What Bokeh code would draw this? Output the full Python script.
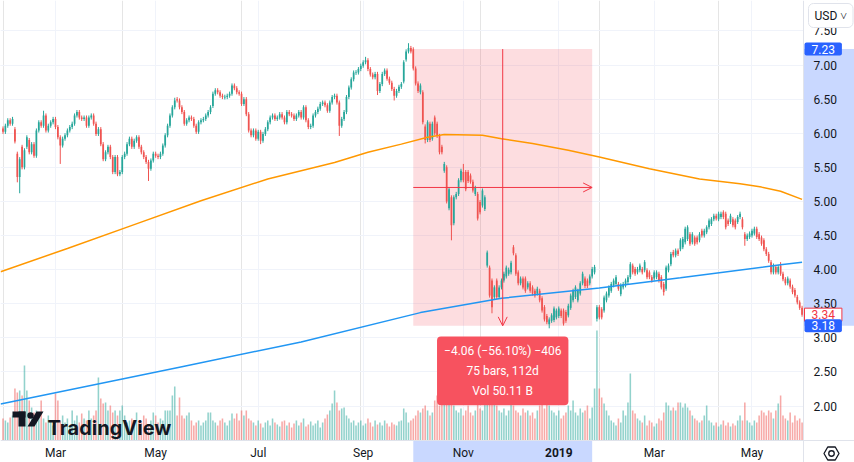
from bokeh.plotting import figure
from bokeh.models import (ColumnDataSource, Range1d, FixedTicker, PrintfTickFormatter,
                          Label, Arrow, OpenHead, LinearAxis, Grid)
from bokeh.embed import file_html
from bokeh.resources import INLINE

# ---------------- data (daily bars, index 0 = first visible trading day) ----------------
open_px = [
    6.07, 6.02, 6.11, 6.19, 6.14, 6.06, 5.70, 5.36, 5.80, 5.50,
    5.80, 5.90, 5.72, 5.84, 5.67, 6.04, 6.16, 6.11, 6.26, 6.04,
    6.11, 6.16, 6.21, 6.09, 5.94, 5.82, 5.92, 5.97, 6.04, 6.09,
    6.14, 6.26, 6.31, 6.23, 6.21, 6.23, 6.11, 6.23, 6.26, 6.14,
    5.99, 6.06, 5.84, 5.62, 5.72, 5.80, 5.65, 5.43, 5.65, 5.40,
    5.43, 5.65, 5.70, 5.84, 5.92, 5.80, 5.89, 5.94, 5.80, 5.72,
    5.65, 5.58, 5.48, 5.60, 5.70, 5.67, 5.65, 5.70, 5.82, 5.97,
    6.11, 6.26, 6.38, 6.50, 6.48, 6.38, 6.31, 6.14, 6.19, 6.23,
    6.21, 6.11, 6.02, 6.16, 6.19, 6.21, 6.26, 6.31, 6.40, 6.58,
    6.63, 6.60, 6.55, 6.53, 6.53, 6.55, 6.58, 6.70, 6.66, 6.60,
    6.58, 6.43, 6.50, 6.28, 6.04, 5.97, 6.04, 5.92, 6.02, 5.89,
    5.99, 6.06, 6.16, 6.23, 6.26, 6.21, 6.23, 6.28, 6.23, 6.16,
    6.31, 6.28, 6.26, 6.21, 6.26, 6.31, 6.23, 6.38, 6.19, 6.09,
    6.11, 6.26, 6.31, 6.36, 6.43, 6.45, 6.41, 6.33, 6.45, 6.53,
    6.55, 6.45, 6.11, 6.21, 6.31, 6.53, 6.67, 6.79, 6.89, 6.89,
    6.94, 6.99, 7.04, 7.07, 6.94, 6.86, 6.82, 6.87, 6.62, 6.72,
    6.87, 6.92, 6.80, 6.74, 6.65, 6.55, 6.62, 6.68, 6.76, 7.08,
    7.20, 7.25,
    7.23, 6.95, 6.73, 6.60, 6.60, 6.10, 5.90, 6.14, 5.92, 6.23,
    6.14, 5.96, 5.80, 5.45, 5.50, 4.90, 5.06, 4.68, 5.06, 5.11,
    5.31, 5.43, 5.43, 5.43, 5.38, 5.29, 5.11, 5.11, 4.99, 4.94,
    4.89, 4.06, 4.03, 3.84, 3.60, 3.84, 3.60, 3.74, 3.84, 3.90,
    3.94, 3.96, 4.33, 4.21, 3.96, 3.80, 3.87, 3.87, 3.74, 3.80,
    3.74, 3.69, 3.65, 3.69, 3.58, 3.45, 3.32, 3.20, 3.25, 3.26,
    3.30, 3.32, 3.40, 3.40, 3.38, 3.33, 3.44, 3.55, 3.60, 3.55,
    3.65, 3.80, 3.87, 3.84, 3.80, 3.90, 3.96, 3.28, 3.45, 3.42,
    3.40, 3.55, 3.62, 3.69, 3.77, 3.79, 3.79, 3.64, 3.74, 3.77,
    3.82, 3.89, 4.06, 4.01, 3.96, 3.99, 4.01, 3.99, 3.99, 3.96,
    3.89, 3.87, 3.89, 3.94, 3.89, 3.79, 3.72, 3.99, 4.08, 4.26,
    4.21, 4.28, 4.30, 4.33, 4.40, 4.45, 4.52, 4.40, 4.47, 4.47,
    4.43, 4.57, 4.50, 4.55, 4.62, 4.67, 4.74, 4.79, 4.74, 4.77,
    4.84, 4.82, 4.72, 4.70, 4.74, 4.72, 4.70, 4.77, 4.74, 4.52,
    4.45, 4.48, 4.50, 4.53, 4.60, 4.52, 4.47, 4.43, 4.30, 4.23,
    4.11, 3.96, 4.04, 3.96, 4.06, 3.94, 3.86, 3.80, 3.84, 3.75,
    3.70, 3.60, 3.52, 3.44,
]
close_px = [
    6.02, 6.11, 6.19, 6.14, 6.21, 5.88, 5.36, 5.62, 5.50, 5.75,
    5.94, 5.72, 5.84, 5.67, 6.04, 6.16, 6.11, 6.26, 6.04, 6.11,
    6.16, 6.21, 6.09, 5.94, 5.82, 5.92, 5.97, 6.04, 6.09, 6.14,
    6.26, 6.31, 6.23, 6.21, 6.23, 6.11, 6.23, 6.26, 6.14, 5.99,
    6.06, 5.84, 5.62, 5.72, 5.80, 5.65, 5.43, 5.65, 5.40, 5.43,
    5.65, 5.70, 5.84, 5.92, 5.80, 5.89, 5.94, 5.80, 5.72, 5.65,
    5.58, 5.48, 5.60, 5.70, 5.67, 5.65, 5.70, 5.82, 5.97, 6.11,
    6.26, 6.38, 6.48, 6.48, 6.38, 6.31, 6.14, 6.19, 6.23, 6.21,
    6.11, 6.02, 6.16, 6.19, 6.21, 6.26, 6.31, 6.38, 6.58, 6.63,
    6.60, 6.55, 6.53, 6.53, 6.55, 6.58, 6.70, 6.66, 6.60, 6.58,
    6.43, 6.50, 6.28, 6.04, 5.97, 6.04, 5.92, 6.02, 5.89, 5.99,
    6.06, 6.16, 6.23, 6.26, 6.21, 6.23, 6.28, 6.23, 6.16, 6.31,
    6.28, 6.26, 6.21, 6.26, 6.31, 6.23, 6.38, 6.19, 6.09, 6.11,
    6.26, 6.31, 6.36, 6.43, 6.45, 6.41, 6.33, 6.45, 6.53, 6.55,
    6.45, 6.11, 6.21, 6.31, 6.53, 6.67, 6.79, 6.89, 6.89, 6.94,
    6.99, 7.04, 7.07, 6.94, 6.86, 6.82, 6.87, 6.62, 6.72, 6.87,
    6.92, 6.80, 6.74, 6.65, 6.55, 6.62, 6.68, 6.72, 7.04, 7.20,
    7.25, 7.20,
    6.95, 6.73, 6.62, 6.70, 6.16, 5.90, 6.16, 5.90, 6.14, 6.00,
    5.96, 5.72, 5.72, 5.55, 5.00, 5.18, 4.65, 5.06, 5.11, 5.31,
    5.45, 5.31, 5.18, 5.30, 5.29, 5.16, 5.20, 4.75, 4.84, 5.16,
    5.06, 4.25, 3.62, 3.45, 3.74, 3.60, 3.74, 3.84, 3.94, 4.03,
    4.00, 4.10, 4.24, 3.94, 3.80, 3.87, 3.74, 3.69, 3.80, 3.69,
    3.65, 3.62, 3.72, 3.55, 3.40, 3.27, 3.23, 3.27, 3.33, 3.43,
    3.40, 3.43, 3.32, 3.21, 3.25, 3.47, 3.62, 3.69, 3.74, 3.69,
    3.80, 3.94, 3.76, 3.76, 3.90, 4.01, 4.04, 3.45, 3.30, 3.30,
    3.59, 3.65, 3.74, 3.79, 3.84, 3.89, 3.72, 3.77, 3.79, 3.84,
    3.89, 4.08, 3.96, 3.94, 4.01, 4.06, 3.96, 4.11, 3.89, 3.89,
    3.84, 3.96, 3.96, 3.84, 3.74, 3.67, 4.03, 4.06, 4.23, 4.21,
    4.28, 4.23, 4.43, 4.45, 4.60, 4.62, 4.38, 4.52, 4.38, 4.40,
    4.52, 4.50, 4.57, 4.62, 4.72, 4.74, 4.79, 4.75, 4.82, 4.82,
    4.77, 4.62, 4.67, 4.79, 4.65, 4.62, 4.77, 4.82, 4.62, 4.45,
    4.50, 4.53, 4.57, 4.60, 4.48, 4.45, 4.38, 4.30, 4.23, 4.13,
    3.96, 4.06, 3.96, 4.04, 3.94, 3.86, 3.80, 3.87, 3.75, 3.67,
    3.62, 3.52, 3.44, 3.34,
]
# volume in millions of shares
volume_m = [
    440, 400, 360, 460, 500, 1040, 960, 1000, 900, 1500,
    1000, 800, 660, 560, 600, 540, 800, 440, 360, 500,
    400, 300, 940, 800, 400, 500, 360, 440, 300, 600,
    400, 500, 360, 540, 440, 400, 600, 440, 500, 600,
    1260, 840, 740, 760, 600, 700, 560, 600, 500, 600,
    700, 500, 360, 400, 440, 300, 560, 400, 360, 500,
    440, 320, 400, 560, 500, 360, 440, 400, 600, 600,
    600, 900, 1080, 500, 860, 500, 440, 500, 560, 400,
    300, 360, 400, 300, 360, 400, 560, 560, 400, 360,
    300, 400, 440, 360, 300, 400, 540, 440, 540, 400,
    600, 500, 600, 440, 400, 360, 300, 400, 340, 260,
    360, 400, 300, 440, 360, 320, 280, 380, 400, 300,
    360, 260, 340, 400, 300, 360, 440, 280, 320, 380,
    300, 340, 400, 260, 360, 440, 520, 600, 740, 1000,
    760, 600, 640, 660, 500, 440, 360, 400, 300, 360,
    400, 300, 340, 440, 360, 280, 400, 320, 360, 300,
    400, 340, 280, 360, 320, 300, 380, 400, 640, 560,
    360, 400, 440, 500, 600, 560, 640, 700, 600, 500,
    560, 800, 900, 700, 840, 760, 1000, 900, 800, 700,
    600, 560, 640, 500, 600, 700, 560, 500, 600, 760,
    640, 600, 800, 960, 900, 840, 760, 700, 600, 560,
    640, 500, 600, 800, 700, 600, 560, 500, 640, 560,
    600, 500, 560, 440, 600, 700, 760, 640, 800, 700,
    600, 560, 500, 600, 440, 500, 560, 700, 600, 800,
    560, 500, 640, 560, 600, 700, 440, 660, 1040, 2200,
    1040, 860, 740, 600, 500, 400, 360, 300, 440, 360,
    600, 500, 760, 1340, 600, 540, 440, 400, 360, 500,
    300, 400, 360, 280, 340, 440, 400, 560, 760, 700,
    600, 660, 600, 760, 760, 660, 740, 660, 600, 500,
    440, 400, 360, 400, 500, 700, 400, 360, 300, 360,
    280, 320, 400, 300, 360, 280, 340, 300, 400, 500,
    400, 760, 400, 360, 300, 400, 360, 500, 600, 560,
    500, 600, 560, 440, 600, 740, 900, 500, 440, 400,
    560, 360, 500, 400, 440, 360,
]
# long wicks (bar index -> price)
wick_low = {6: 5.28, 7: 5.12, 24: 5.55, 61: 5.30, 108: 5.84, 141: 5.96, 157: 6.56,
            164: 6.48, 177: 5.85, 188: 4.43, 205: 3.36, 229: 3.14, 249: 3.24,
            277: 3.62, 311: 4.35}
wick_high = {17: 6.33, 72: 6.52, 152: 7.12, 170: 7.32, 193: 5.55, 214: 4.35, 326: 4.11}
wick_pad = 0.03

# moving averages (read at points along each line)
ma_orange_idx = [-1, 27, 55, 83, 111, 139, 153, 167, 178, 185, 201, 209, 222, 237, 250,
                 271, 292, 309, 318, 326, 335]
ma_orange_val = [3.97, 4.31, 4.66, 5.01, 5.33, 5.57, 5.72, 5.84, 5.94, 5.98, 5.97, 5.92,
                 5.85, 5.75, 5.65, 5.48, 5.33, 5.26, 5.21, 5.15, 5.03]
ma_blue_idx = [-1, 74, 125, 175, 209, 250, 284, 326, 335]
ma_blue_val = [2.03, 2.57, 2.94, 3.37, 3.58, 3.73, 3.88, 4.07, 4.11]

month_tick_idx = [22, 64, 107, 151, 193, 233, 273, 314]
month_tick_lbl = ["Mar", "May", "Jul", "Sep", "Nov", "2019", "Mar", "May"]
price_ticks = [2.0, 2.5, 3.0, 3.5, 4.0, 4.5, 5.0, 5.5, 6.0, 6.5, 7.0, 7.5]

measure_start, measure_end = 172, 247
measure_high, measure_low = 7.234, 3.176
measure_text = "\u22124.06 (\u221256.10%) \u2212406\n75 bars, 112d\nVol 50.11 B"

n = len(close_px)
assert len(open_px) == n and len(volume_m) == n, (len(open_px), n, len(volume_m))

# ---------------- styling / layout ----------------
UP, DN = "#26a69a", "#ef5350"
RC = "#f23645"
TXT = "#131722"
FONT = "Roboto"
W, H = 854, 462
RB, BB = 51, 22            # price-scale column and time-scale row (px)
FW, FH = W - RB, H - BB    # chart pane size (px)
X0, X1 = -1.05, 335.6      # visible bar range of the chart pane
Y0, Y1 = 1.495, 7.946      # visible price range of the chart pane
ux = (X1 - X0) / FW
uy = (Y1 - Y0) / FH
X1f = X1 + RB * ux
Y0f = Y0 - BB * uy
VOL_TOP = 8800.0           # volume shown at full pane height


def fx(px):
    return X0 + px * ux


def fy(px):
    return Y0 + px * uy


idx = list(range(n))
tops, bots, highs, lows, colors = [], [], [], [], []
for i in idx:
    o, c = open_px[i], close_px[i]
    t, b = max(o, c), min(o, c)
    if t - b < 0.01:
        t, b = t + 0.005, b - 0.005
    tops.append(t)
    bots.append(b)
    highs.append(max(t + wick_pad, wick_high.get(i, 0)))
    lows.append(min(b - wick_pad, wick_low.get(i, 99)))
    colors.append(UP if c >= o else DN)

src = ColumnDataSource(dict(idx=idx, top=tops, bottom=bots, high=highs, low=lows,
                            color=colors, vol=volume_m))

p = figure(width=W, height=H, x_range=Range1d(X0, X1f), y_range=Range1d(Y0f, Y1),
           output_backend="svg", toolbar_location=None,
           x_axis_location=None, y_axis_location=None,
           min_border_left=0, min_border_top=0, min_border_right=0, min_border_bottom=0,
           background_fill_color="white", border_fill_color="white", outline_line_color=None)
p.extra_y_ranges = {"vol": Range1d(-BB * VOL_TOP / FH, VOL_TOP)}

overrides = {t: ("" if l.isdigit() else l) for t, l in zip(month_tick_idx, month_tick_lbl)}
xaxis = LinearAxis(ticker=FixedTicker(ticks=month_tick_idx), major_label_overrides=overrides,
                   fixed_location=Y0)
yaxis = LinearAxis(ticker=FixedTicker(ticks=price_ticks),
                   formatter=PrintfTickFormatter(format="%.2f"), fixed_location=X1)
for ax in (xaxis, yaxis):
    ax.axis_line_color = "#e0e3eb"
    ax.major_tick_line_color = None
    ax.minor_tick_line_color = None
    ax.major_tick_out = 0
    ax.major_tick_in = 0
    ax.major_label_text_font = FONT
    ax.major_label_text_font_size = "12px"
    ax.major_label_text_color = TXT
xaxis.major_label_standoff = 5
yaxis.major_label_standoff = 10
p.add_layout(xaxis, "below")
p.add_layout(yaxis, "right")
p.add_layout(Grid(dimension=0, ticker=xaxis.ticker, grid_line_color="#f0f3fa"))
p.add_layout(Grid(dimension=1, ticker=yaxis.ticker, grid_line_color="#f0f3fa"))

# scale panes (white, hide grid) and their highlighted spans
p.quad(left=[X1, X0], right=[X1f, X1], bottom=[Y0f, Y0f], top=[Y1, Y0],
       fill_color="white", line_color=None)
p.quad(left=[X1, measure_start], right=[X1f, measure_end],
       bottom=[measure_low, Y0f], top=[measure_high, Y0],
       fill_color="#2962ff", fill_alpha=0.25, line_color=None)

# measurement area (behind candles)
p.quad(left=[measure_start], right=[measure_end], bottom=[measure_low], top=[measure_high],
       fill_color=RC, fill_alpha=0.17, line_color=None)

# volume
p.vbar(x="idx", top="vol", bottom=0, width=0.65, y_range_name="vol", source=src,
       fill_color="color", fill_alpha=0.5, line_color=None)

# candles
p.segment(x0="idx", y0="low", x1="idx", y1="high", line_color="color", line_width=1, source=src)
p.vbar(x="idx", top="top", bottom="bottom", width=0.72, fill_color="color", line_color=None,
       source=src)

# moving averages
p.line(ma_orange_idx, ma_orange_val, line_color="#ff9800", line_width=1.5)
p.line(ma_blue_idx, ma_blue_val, line_color="#2196f3", line_width=1.5)

# TradingView logo
p.quad(left=[fx(12), fx(18)], right=[fx(25), fx(25)], bottom=[fy(23), fy(14)],
       top=[fy(29), fy(29)], fill_color=TXT, line_color=None)
p.scatter([fx(30)], [fy(25)], size=6.5, marker="circle", fill_color=TXT, line_color=None)
p.patch([fx(36), fx(43), fx(34), fx(27)], [fy(29), fy(29), fy(14), fy(14)],
        fill_color=TXT, line_color=None)
p.add_layout(Label(x=fx(47), y=fy(13), text="TradingView", text_font="Inter",
                   text_font_size="20px", text_font_style="bold", text_color=TXT,
                   text_baseline="alphabetic"))

# settings icon in the scale corner
p.scatter([fx(FW + 28)], [fy(-13)], marker="hex", size=15, fill_color=None,
          line_color=TXT, line_width=1.3)
p.scatter([fx(FW + 28)], [fy(-13)], marker="circle", size=5.5, fill_color=None,
          line_color=TXT, line_width=1.3)

# measurement arrows
mid_x = (measure_start + measure_end) / 2
mid_y = (measure_high + measure_low) / 2
p.add_layout(Arrow(end=OpenHead(size=9, line_color=RC, line_width=1),
                   x_start=measure_start, y_start=mid_y, x_end=measure_end, y_end=mid_y,
                   line_color=RC, line_width=1))
p.add_layout(Arrow(end=OpenHead(size=9, line_color=RC, line_width=1),
                   x_start=mid_x, y_start=measure_high, x_end=mid_x, y_end=measure_low,
                   line_color=RC, line_width=1))

# measurement label
p.add_layout(Label(x=mid_x, y=measure_low - 45 * uy, text=measure_text, text_align="center",
                   text_baseline="middle", text_color="white", text_font=FONT,
                   text_font_size="12px", text_line_height=1.45,
                   background_fill_color="#f7525f", border_radius=4, padding=7))

# year tick labels (bold)
for t, l in zip(month_tick_idx, month_tick_lbl):
    if l.isdigit():
        p.add_layout(Label(x=t, y=fy(-12), text=l, text_align="center", text_baseline="middle",
                           text_font=FONT, text_font_size="12px", text_font_style="bold",
                           text_color=TXT))

# price labels on the price scale
p.add_layout(Label(x=fx(FW + 1), y=close_px[-1], text=f"{close_px[-1]:.2f}", text_align="left",
                   text_baseline="middle", text_color=RC, text_font=FONT, text_font_size="12px",
                   text_line_height=1.0, background_fill_color="white",
                   border_line_color=RC, border_line_width=1, padding=(7, 2)))
for pv in (measure_high, measure_low):
    p.add_layout(Label(x=fx(FW + 1), y=pv, text=f"{pv:.2f}", text_align="left",
                       text_baseline="middle", text_color="white", text_font=FONT,
                       text_font_size="12px", text_line_height=1.0,
                       background_fill_color="#2962ff", border_radius=2, padding=(7, 2)))

# currency button
p.add_layout(Label(x=fx(FW + 5), y=Y1 - 15 * uy, text="USD \u02c5", text_align="left",
                   text_baseline="middle", text_color=TXT, text_font=FONT, text_font_size="12px",
                   text_line_height=1.0, background_fill_color="white",
                   border_line_color="#e0e3eb", border_line_width=1, border_radius=5,
                   padding=(6, 5)))

open("out.html", "w").write(file_html(p, INLINE))
